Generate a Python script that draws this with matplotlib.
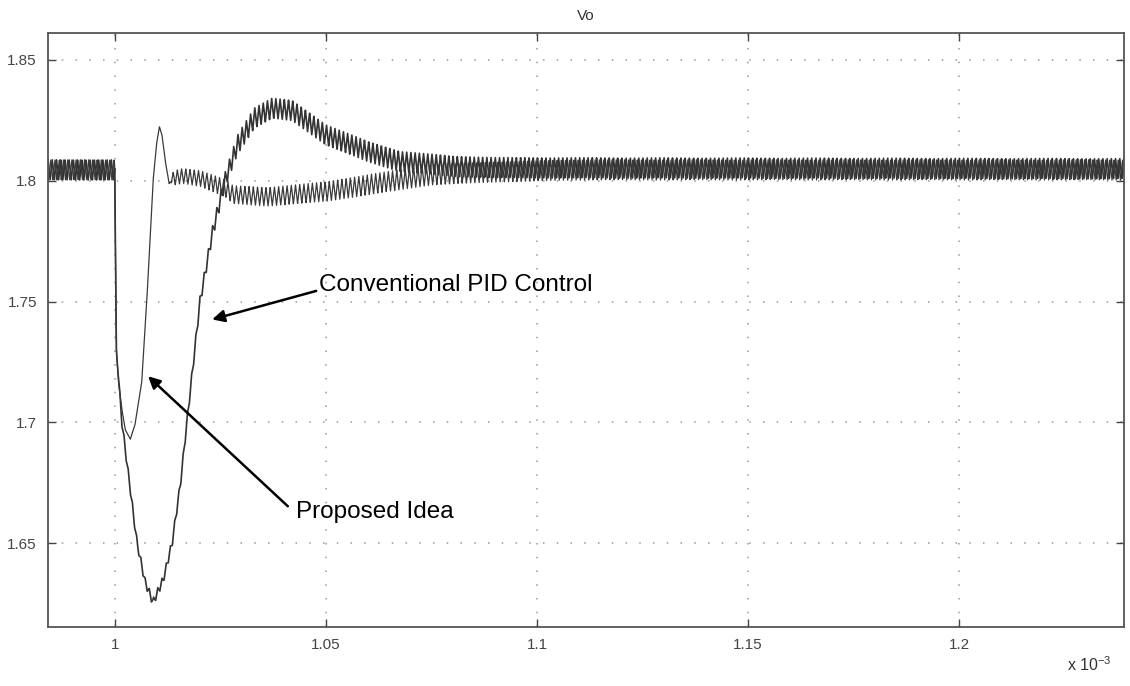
import numpy as np
import matplotlib
matplotlib.use("Agg")
import matplotlib.pyplot as plt

plt.rcParams['font.family'] = ['Liberation Sans', 'DejaVu Sans']

# time axis in units of 1e-3 s
x_min, x_max = 0.9841, 1.2391
y_min, y_max = 1.6153, 1.8612

# switching ripple: ~1 us period
ripple_period = 0.001

# Conventional PID control: centre of the trace and half ripple
conv_t = [0.984, 0.9999, 1.0003, 1.0016, 1.0036, 1.0052, 1.0071, 1.009, 1.0114,
          1.0135, 1.0155, 1.017, 1.0201, 1.023, 1.026, 1.029, 1.033, 1.0372,
          1.042, 1.05, 1.06, 1.0675, 1.08, 1.091, 1.239]
conv_v = [1.8045, 1.8045, 1.730, 1.700, 1.672, 1.650, 1.634, 1.6256, 1.635,
          1.650, 1.675, 1.700, 1.750, 1.778, 1.800, 1.815, 1.826, 1.830,
          1.829, 1.819, 1.812, 1.808, 1.806, 1.8054, 1.8050]
conv_amp_t = [0.984, 0.9999, 1.0003, 1.001, 1.016, 1.022, 1.03, 1.239]
conv_amp = [0.0042, 0.0042, 0.0, 0.0017, 0.0017, 0.0025, 0.0042, 0.0042]

# Proposed idea: centre of the trace and half ripple
prop_t = [0.984, 0.9999, 1.0003, 1.0008, 1.0016, 1.0024, 1.0036, 1.0047, 1.0063,
          1.0075, 1.009, 1.0098, 1.0105, 1.0111, 1.0119, 1.0128, 1.0135, 1.016,
          1.0202, 1.026, 1.028, 1.036, 1.05, 1.06, 1.0675, 1.075, 1.091, 1.11, 1.239]
prop_v = [1.8045, 1.8045, 1.730, 1.7165, 1.7054, 1.697, 1.693, 1.699, 1.7165,
          1.750, 1.800, 1.815, 1.8224, 1.819, 1.808, 1.7988, 1.801, 1.802,
          1.801, 1.797, 1.7942, 1.7934, 1.7955, 1.7984, 1.8004, 1.8025, 1.8037, 1.8045, 1.8045]
prop_amp_t = [0.984, 0.9999, 1.0003, 1.0128, 1.014, 1.03, 1.06, 1.239]
prop_amp = [0.0042, 0.0042, 0.0, 0.0, 0.003, 0.0038, 0.0042, 0.0042]

t = np.linspace(x_min, x_max, 12000)


def triangle(t, phase):
    p = ((t - x_min) / ripple_period + phase) % 1.0
    return 4 * np.abs(p - 0.5) - 1


conv = np.interp(t, conv_t, conv_v) + np.interp(t, conv_amp_t, conv_amp) * triangle(t, 0.0)
prop = np.interp(t, prop_t, prop_v) + np.interp(t, prop_amp_t, prop_amp) * triangle(t, 0.35)

fig = plt.figure(figsize=(11.3, 6.86), dpi=100)
ax = fig.add_axes([0.0425, 0.086, 0.9522, 0.866])

ax.plot(t, conv, color='#333333', lw=1.2)
ax.plot(t, prop, color='#3a3a3a', lw=0.9)

ax.set_xlim(x_min, x_max)
ax.set_ylim(y_min, y_max)
ax.set_xticks([1.0, 1.05, 1.1, 1.15, 1.2])
ax.set_xticklabels(['1', '1.05', '1.1', '1.15', '1.2'])
ax.set_yticks([1.65, 1.7, 1.75, 1.8, 1.85])
ax.set_yticklabels(['1.65', '1.7', '1.75', '1.8', '1.85'])
ax.tick_params(direction='in', top=True, right=True, length=6, width=1,
               colors='#444444', labelsize=11, pad=8)
for s in ax.spines.values():
    s.set_color('#555555')
    s.set_linewidth(1.3)
ax.grid(True, color='#999999', linestyle=(0, (1, 8)), linewidth=1.1)

ax.set_title('Vo', fontsize=11, color='#333333', pad=9)

ax.annotate('Conventional PID Control', xy=(1.0230, 1.7426), xytext=(1.0483, 1.7570),
            fontsize=17.5, va='center', ha='left',
            arrowprops=dict(arrowstyle='-|>', color='black', lw=1.8, mutation_scale=18,
                            shrinkA=0, shrinkB=0, relpos=(0, 0.25)))
ax.annotate('Proposed Idea', xy=(1.0078, 1.7191), xytext=(1.0428, 1.6630),
            fontsize=17.5, va='center', ha='left',
            arrowprops=dict(arrowstyle='-|>', color='black', lw=1.8, mutation_scale=18,
                            shrinkA=0, shrinkB=0, relpos=(-0.05, 0.75)))

fig.text(0.984, 0.031, r'x 10$^{\mathregular{-3}}$', ha='right', va='center', fontsize=11.5,
         color='#333333')

plt.savefig('out.png', dpi=100)
